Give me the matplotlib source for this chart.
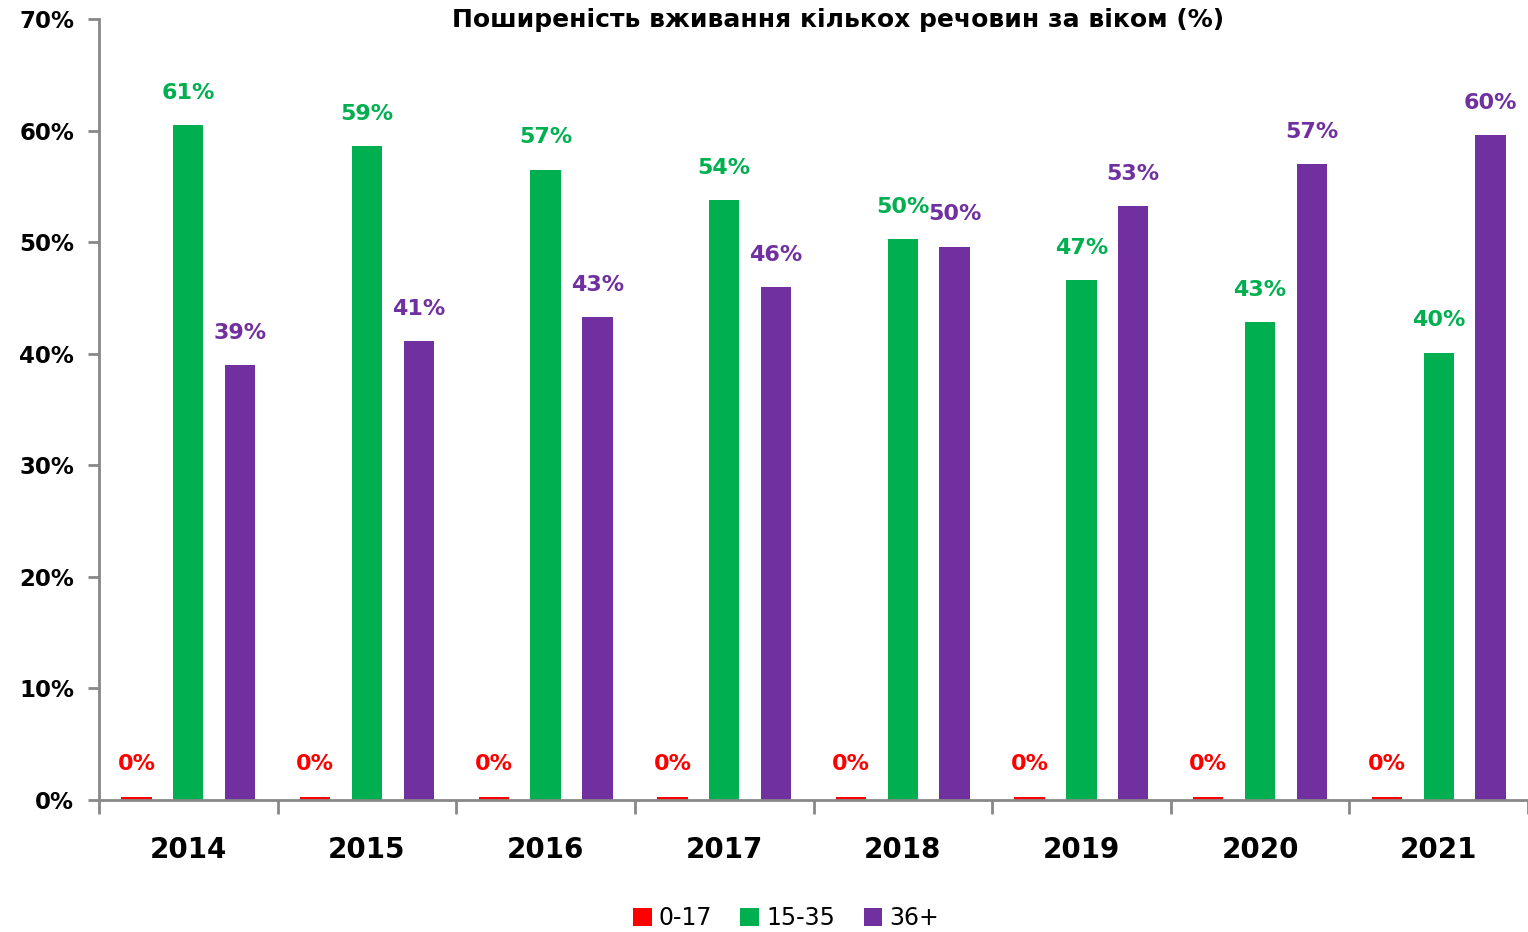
import matplotlib
matplotlib.use("Agg")
import matplotlib.pyplot as plt
import numpy as np
from matplotlib.ticker import FixedLocator, FuncFormatter

years = ["2014", "2015", "2016", "2017", "2018", "2019", "2020", "2021"]
age_0_17 = [0.3, 0.3, 0.3, 0.3, 0.3, 0.3, 0.3, 0.3]
age_15_35 = [60.5, 58.6, 56.5, 53.8, 50.3, 46.6, 42.8, 40.1]
age_36_plus = [39.0, 41.1, 43.3, 46.0, 49.6, 53.2, 57.0, 59.6]
label_0_17 = ["0%"] * 8
label_15_35 = ["61%", "59%", "57%", "54%", "50%", "47%", "43%", "40%"]
label_36_plus = ["39%", "41%", "43%", "46%", "50%", "53%", "57%", "60%"]

SERIES = [
    ("0-17", age_0_17, label_0_17, "#ff0000", -0.29),
    ("15-35", age_15_35, label_15_35, "#00b050", 0.0),
    ("36+", age_36_plus, label_36_plus, "#7030a0", 0.29),
]

plt.rcParams["font.family"] = ["DejaVu Sans"]

fig = plt.figure(figsize=(15.28, 9.32), dpi=100)
ax = fig.add_axes([99 / 1528, 132 / 932, 1 - 99 / 1528, (800 - 19) / 932])

x = np.arange(len(years))
width = 0.17
for name, values, labels, color, offset in SERIES:
    bars = ax.bar(x + offset, values, width, color=color, label=name)
    for bar, text in zip(bars, labels):
        ax.annotate(
            text,
            (bar.get_x() + bar.get_width() / 2, bar.get_height()),
            xytext=(0, 16),
            textcoords="offset points",
            ha="center",
            va="bottom",
            color=color,
            fontsize=16,
            fontweight="bold",
        )

ax.set_xlim(-0.5, len(years) - 0.5)
ax.set_ylim(0, 70)
ax.yaxis.set_major_locator(FixedLocator(np.arange(0, 71, 10)))
ax.yaxis.set_major_formatter(FuncFormatter(lambda v, _: f"{v:.0f}%"))

ax.set_xticks(x)
ax.set_xticklabels(years, fontsize=20, fontweight="bold")
ax.set_xticks(np.arange(-0.5, len(years)), minor=True)
ax.tick_params(axis="x", which="major", length=0, pad=26)
ax.tick_params(axis="x", which="minor", length=10, width=2, color="#888888", direction="out")
ax.tick_params(axis="y", length=8, width=2, color="#888888", pad=10, labelsize=16.5)
for lbl in ax.get_yticklabels():
    lbl.set_fontweight("bold")

for side in ["top", "right"]:
    ax.spines[side].set_visible(False)
for side in ["left", "bottom"]:
    ax.spines[side].set_color("#888888")
    ax.spines[side].set_linewidth(2)

fig.text(838 / 1528, 1 - 20 / 932, "Поширеність вживання кількох речовин за віком (%)",
         ha="center", va="center", fontsize=18, fontweight="bold")

fig.legend(loc="center", bbox_to_anchor=(786 / 1528, 1 - 918 / 932), ncol=3, frameon=False,
           fontsize=17, handlelength=0.8, handleheight=0.8, handletextpad=0.3, columnspacing=1.2)

fig.savefig("out.png", dpi=100)
